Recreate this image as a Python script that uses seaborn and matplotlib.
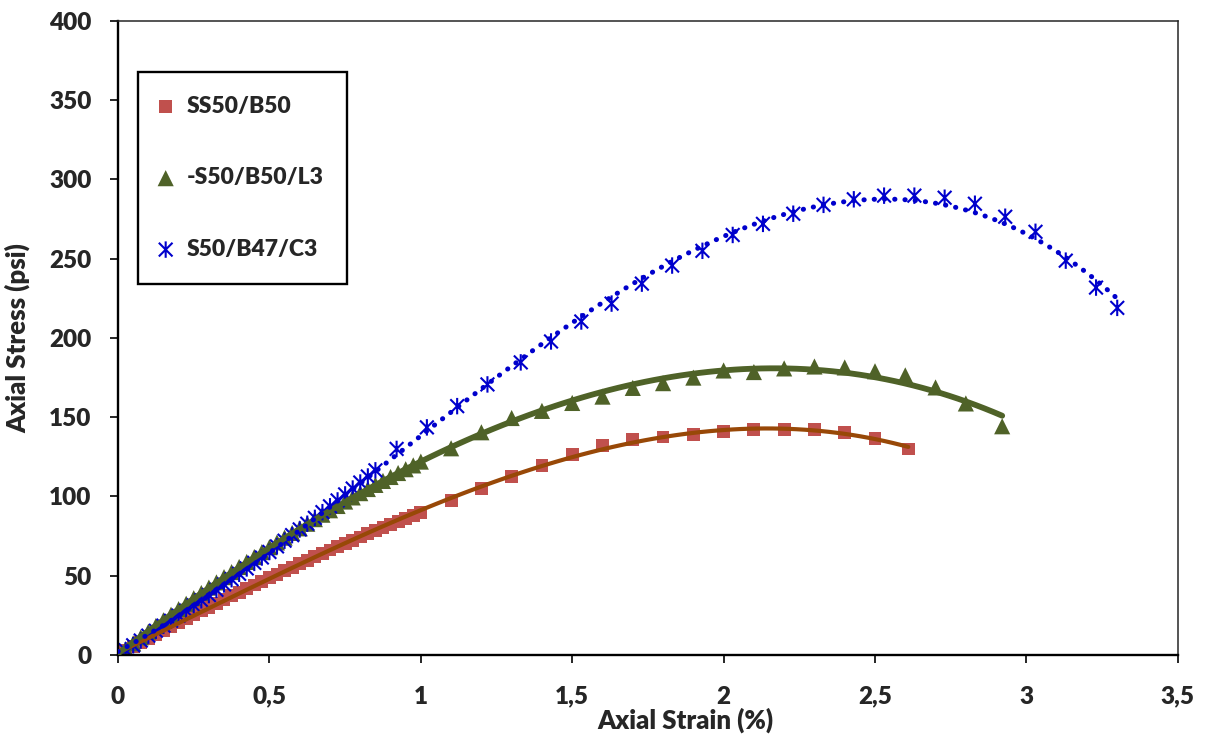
import numpy as np
import matplotlib
matplotlib.use("Agg")
import matplotlib.pyplot as plt
from matplotlib.path import Path
import seaborn as sns

# ---------------- data ----------------
# SS50/B50 (red squares)
red_strain = [0, 0.025, 0.05, 0.075, 0.1, 0.125, 0.15, 0.175, 0.2, 0.225,
              0.25, 0.275, 0.3, 0.325, 0.35, 0.375, 0.4, 0.425, 0.45, 0.475,
              0.5, 0.525, 0.55, 0.575, 0.6, 0.625, 0.65, 0.675, 0.7, 0.725,
              0.75, 0.775, 0.8, 0.825, 0.85, 0.875, 0.9, 0.925, 0.95, 0.975,
              1.0, 1.1, 1.2, 1.3, 1.4, 1.5, 1.6, 1.7, 1.8, 1.9,
              2.0, 2.1, 2.2, 2.3, 2.4, 2.5, 2.61]
red_stress = [0, 2.6, 5.2, 7.8, 10.4, 12.9, 15.4, 17.9, 20.4, 22.9,
              25.3, 27.7, 30.2, 32.5, 34.9, 37.3, 39.6, 41.9, 44.2, 46.5,
              48.8, 51.0, 53.2, 55.4, 57.6, 59.8, 61.9, 64.0, 66.2, 68.2,
              70.3, 72.4, 74.4, 76.4, 78.4, 80.4, 82.4, 84.3, 86.2, 88.1,
              90.0, 97.6, 105.0, 112.8, 119.7, 126.6, 132.3, 136.0, 137.5, 139.3,
              141.0, 142.3, 142.5, 142.3, 140.5, 136.5, 130.0]

# -S50/B50/L3 (green triangles)
green_strain = [0, 0.025, 0.05, 0.075, 0.1, 0.125, 0.15, 0.175, 0.2, 0.225,
                0.25, 0.275, 0.3, 0.325, 0.35, 0.375, 0.4, 0.425, 0.45, 0.475,
                0.5, 0.525, 0.55, 0.575, 0.6, 0.625, 0.65, 0.675, 0.7, 0.725,
                0.75, 0.775, 0.8, 0.825, 0.85, 0.875, 0.9, 0.925, 0.95, 0.975,
                1.0, 1.1, 1.2, 1.3, 1.4, 1.5, 1.6, 1.7, 1.8, 1.9,
                2.0, 2.1, 2.2, 2.3, 2.4, 2.5, 2.6, 2.7, 2.8, 2.92]
green_stress = [0, 3.7, 7.4, 11.1, 14.7, 18.3, 21.9, 25.4, 28.9, 32.3,
                35.8, 39.1, 42.5, 45.8, 49.1, 52.3, 55.5, 58.7, 61.8, 64.9,
                68.0, 71.0, 74.0, 77.0, 79.9, 82.8, 85.7, 88.5, 91.3, 94.0,
                96.8, 99.4, 102.1, 104.7, 107.3, 109.8, 112.3, 114.8, 117.2, 119.6,
                122.0, 130.4, 140.5, 149.5, 154.0, 159.0, 163.0, 168.5, 171.5, 175.0,
                179.5, 178.5, 180.8, 182.0, 181.4, 179.0, 176.4, 168.8, 158.7, 144.3]

# S50/B47/C3 (blue asterisks)
blue_strain = [0, 0.025, 0.05, 0.075, 0.1, 0.125, 0.15, 0.175, 0.2, 0.225,
               0.25, 0.275, 0.3, 0.325, 0.35, 0.375, 0.4, 0.425, 0.45, 0.475,
               0.5, 0.525, 0.55, 0.575, 0.6, 0.625, 0.65, 0.675, 0.7, 0.725,
               0.75, 0.775, 0.8, 0.825, 0.85, 0.92, 1.02, 1.12, 1.22, 1.33,
               1.43, 1.53, 1.63, 1.73, 1.83, 1.93, 2.03, 2.13, 2.23, 2.33,
               2.43, 2.53, 2.63, 2.73, 2.83, 2.93, 3.03, 3.13, 3.23, 3.30]
blue_stress = [0, 3.0, 6.1, 9.1, 12.2, 15.3, 18.5, 21.6, 24.8, 28.0,
               31.3, 34.5, 37.8, 41.1, 44.5, 47.8, 51.2, 54.6, 58.1, 61.5,
               65.0, 68.5, 72.1, 75.6, 79.2, 82.8, 86.5, 90.1, 93.8, 97.5,
               101.3, 105.0, 108.8, 112.6, 116.5, 130.0, 143.6, 157.0, 170.7, 184.6,
               197.8, 210.4, 221.7, 234.3, 245.7, 255.0, 265.0, 272.0, 278.4, 284.0,
               287.5, 289.8, 289.8, 288.5, 284.7, 276.5, 267.0, 248.8, 231.8, 219.0]

labels = ["SS50/B50", "-S50/B50/L3", "S50/B47/C3"]
x_ticks = [0, 0.5, 1, 1.5, 2, 2.5, 3, 3.5]
x_tick_labels = ["0", "0,5", "1", "1,5", "2", "2,5", "3", "3,5"]
y_ticks = [0, 50, 100, 150, 200, 250, 300, 350, 400]

# ---------------- style ----------------
sns.set_style("white")
plt.rcParams["font.family"] = ["Lato", "DejaVu Sans"]
plt.rcParams["font.weight"] = "heavy"
WEIGHT = "heavy"

RED = "#C0504D"
BROWN = "#984807"
GREEN = "#4F6228"
BLUE = "#0000CC"

# excel-like asterisk marker: X plus vertical bar
asterisk = Path([(-1, -1), (1, 1), (-1, 1), (1, -1), (0, -1.2), (0, 1.2)],
                [Path.MOVETO, Path.LINETO, Path.MOVETO, Path.LINETO,
                 Path.MOVETO, Path.LINETO])

fig = plt.figure(figsize=(12.07, 7.42), dpi=100)
ax = fig.add_axes([0.0978, 0.1173, 0.878, 0.8544])

# markers
sns.scatterplot(x=red_strain, y=red_stress, ax=ax, marker="s", s=85,
                color=RED, edgecolor="none", linewidth=0, zorder=2)
sns.scatterplot(x=green_strain, y=green_stress, ax=ax, marker="^", s=135,
                color=GREEN, edgecolor="none", linewidth=0, zorder=2)
sns.scatterplot(x=blue_strain, y=blue_stress, ax=ax, marker=asterisk, s=140,
                facecolor="none", edgecolor=BLUE, linewidth=1.5, zorder=2)

# polynomial trendlines
sns.regplot(x=red_strain, y=red_stress, ax=ax, order=3, ci=None, scatter=False,
            line_kws=dict(color=BROWN, lw=3.0, zorder=3))
sns.regplot(x=green_strain, y=green_stress, ax=ax, order=3, ci=None, scatter=False,
            line_kws=dict(color=GREEN, lw=4.2, zorder=3))
sns.regplot(x=blue_strain, y=blue_stress, ax=ax, order=3, ci=None, scatter=False,
            line_kws=dict(color=BLUE, lw=3.6, linestyle=(0, (0.05, 2.0)),
                          dash_capstyle="round", zorder=3))

ax.set_xlim(0, 3.5)
ax.set_ylim(0, 400)
ax.set_xticks(x_ticks)
ax.set_xticklabels(x_tick_labels)
ax.set_yticks(y_ticks)
ax.tick_params(axis="x", direction="out", length=6, width=1.4, pad=16,
               labelsize=17.5, bottom=True)
ax.tick_params(axis="y", direction="out", length=6, width=1.4, pad=13,
               labelsize=17.5, left=True)
for lab in ax.get_xticklabels() + ax.get_yticklabels():
    lab.set_fontweight(WEIGHT)

for side in ["left", "bottom"]:
    ax.spines[side].set_color("black")
    ax.spines[side].set_linewidth(1.7)
for side in ["top", "right"]:
    ax.spines[side].set_color("#262626")
    ax.spines[side].set_linewidth(1.1)

ax.set_xlabel("Axial Strain (%)", fontsize=18.5, fontweight=WEIGHT)
ax.set_ylabel("Axial Stress (psi)", fontsize=18.5, fontweight=WEIGHT)
ax.xaxis.set_label_coords(0.535, -0.083)
ax.yaxis.set_label_coords(-0.083, 0.5)

handles = ax.collections[:3]
leg = ax.legend(handles, labels, loc="upper left", bbox_to_anchor=(0.019, 0.92),
                borderaxespad=0, frameon=True, fancybox=False, framealpha=1,
                edgecolor="black", scatterpoints=1,
                borderpad=1.05, handlelength=0.3, handletextpad=0.75,
                labelspacing=2.2, prop=dict(weight=WEIGHT, size=16.5))
leg.get_frame().set_linewidth(1.7)

fig.savefig("out.png", dpi=100)
